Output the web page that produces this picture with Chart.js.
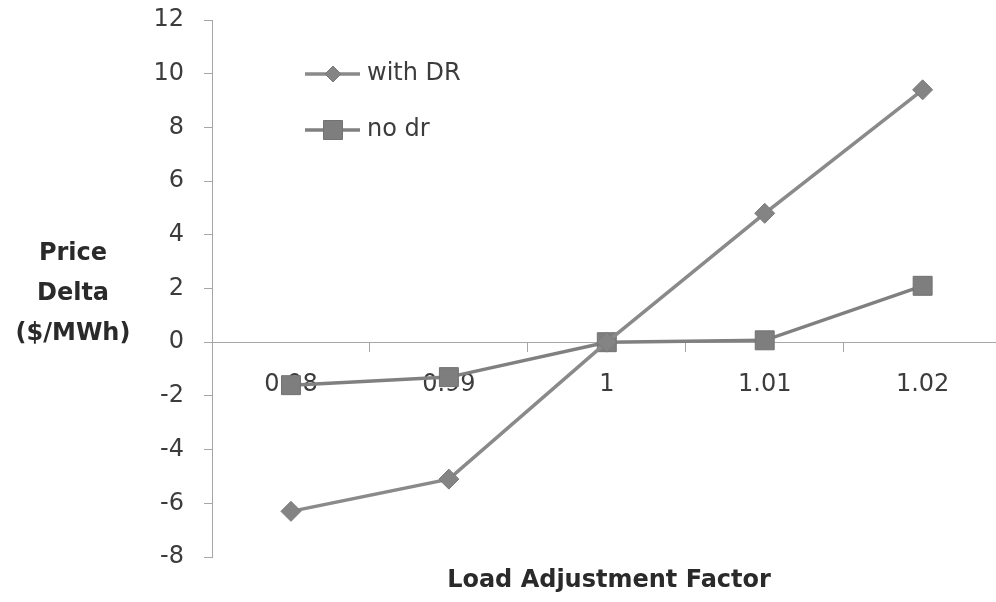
<!DOCTYPE html>
<html>
<head>
<meta charset="utf-8">
<script src="https://cdn.jsdelivr.net/npm/chart.js@4/dist/chart.umd.min.js"></script>
<style>
  html, body { margin: 0; padding: 0; background: #ffffff; overflow: hidden; }
  #wrap { width: 996px; height: 602px; overflow: hidden; }
  canvas { display: block; }
</style>
</head>
<body>
<div id="wrap"><canvas id="chart" width="1016" height="602"></canvas></div>
<script>
// Load adjustment factors on the category axis
const categories = ['0.98', '0.99', '1', '1.01', '1.02'];
// Price delta ($/MWh) for each case
const withDR = [-6.3, -5.1, 0, 4.8, 9.4];
const noDR = [-1.6, -1.3, 0, 0.07, 2.1];
// Value axis range and step
const yMin = -8, yMax = 12, yStep = 2;

const FONT = '"DejaVu Sans", sans-serif';
const TEXT = '#3c3c3c';
const AXIS = '#a6a6a6';

// Titles and the in-plot legend are painted after the chart
const annotations = {
  id: 'annotations',
  afterDraw(chart) {
    const ctx = chart.ctx;
    ctx.save();
    ctx.fillStyle = '#2a2a2a';
    ctx.font = 'bold 24px ' + FONT;
    ctx.textAlign = 'center';
    ctx.textBaseline = 'middle';
    ['Price', 'Delta', '($/MWh)'].forEach((t, i) => ctx.fillText(t, 73, 254 + i * 40));
    ctx.fillText('Load Adjustment Factor', 609, 581);

    // legend
    const items = [
      { label: 'with DR', ds: chart.data.datasets[0], y: 74 },
      { label: 'no dr', ds: chart.data.datasets[1], y: 130 }
    ];
    items.forEach(it => {
      ctx.strokeStyle = it.ds.borderColor;
      ctx.lineWidth = it.ds.borderWidth;
      ctx.beginPath();
      ctx.moveTo(305, it.y);
      ctx.lineTo(360, it.y);
      ctx.stroke();
      ctx.fillStyle = it.ds.pointBackgroundColor;
      ctx.strokeStyle = it.ds.pointBorderColor;
      ctx.lineWidth = 1;
      ctx.beginPath();
      if (it.ds.pointStyle === 'rectRot') {
        const r = 8;
        ctx.moveTo(333, it.y - r);
        ctx.lineTo(333 + r, it.y);
        ctx.lineTo(333, it.y + r);
        ctx.lineTo(333 - r, it.y);
        ctx.closePath();
      } else {
        ctx.rect(333 - 9.5, it.y - 9.5, 19, 19);
      }
      ctx.fill();
      ctx.stroke();
      ctx.fillStyle = TEXT;
      ctx.font = '24px ' + FONT;
      ctx.textAlign = 'left';
      ctx.fillText(it.label, 367, it.y);
    });
    ctx.restore();
  }
};

new Chart(document.getElementById('chart'), {
  type: 'line',
  data: {
    labels: categories,
    datasets: [
      {
        label: 'with DR',
        data: withDR,
        borderColor: '#8a8a8a',
        borderWidth: 3.5,
        pointStyle: 'rectRot',
        pointRadius: 10,
        pointBackgroundColor: '#848484',
        pointBorderColor: '#7a7a7a',
        pointBorderWidth: 1,
        tension: 0
      },
      {
        label: 'no dr',
        data: noDR,
        borderColor: '#808080',
        borderWidth: 3.5,
        pointStyle: 'rect',
        pointRadius: 13.4,
        pointBackgroundColor: '#7e7e7e',
        pointBorderColor: '#727272',
        pointBorderWidth: 1,
        tension: 0
      }
    ]
  },
  options: {
    responsive: false,
    animation: false,
    layout: { padding: { top: 20, bottom: 45, left: 0, right: 2 } },
    plugins: { legend: { display: false }, tooltip: { enabled: false } },
    scales: {
      x: {
        type: 'category',
        position: { y: 0 },
        z: 1,
        offset: true,
        grid: { offset: true, drawOnChartArea: false, drawTicks: true, tickLength: 9, color: AXIS },
        border: { display: true, color: AXIS, width: 1 },
        ticks: { color: TEXT, font: { family: FONT, size: 24 }, padding: 19, maxRotation: 0 }
      },
      y: {
        min: yMin,
        max: yMax,
        afterFit(scale) {
          scale.width = 212;
          scale.paddingTop = 0;
          scale.paddingBottom = 0;
        },
        grid: { drawOnChartArea: false, drawTicks: true, tickLength: 8, color: AXIS },
        border: { display: true, color: AXIS, width: 1 },
        ticks: { stepSize: yStep, color: TEXT, font: { family: FONT, size: 24 }, padding: 20 }
      }
    }
  },
  plugins: [annotations]
});
</script>
</body>
</html>
